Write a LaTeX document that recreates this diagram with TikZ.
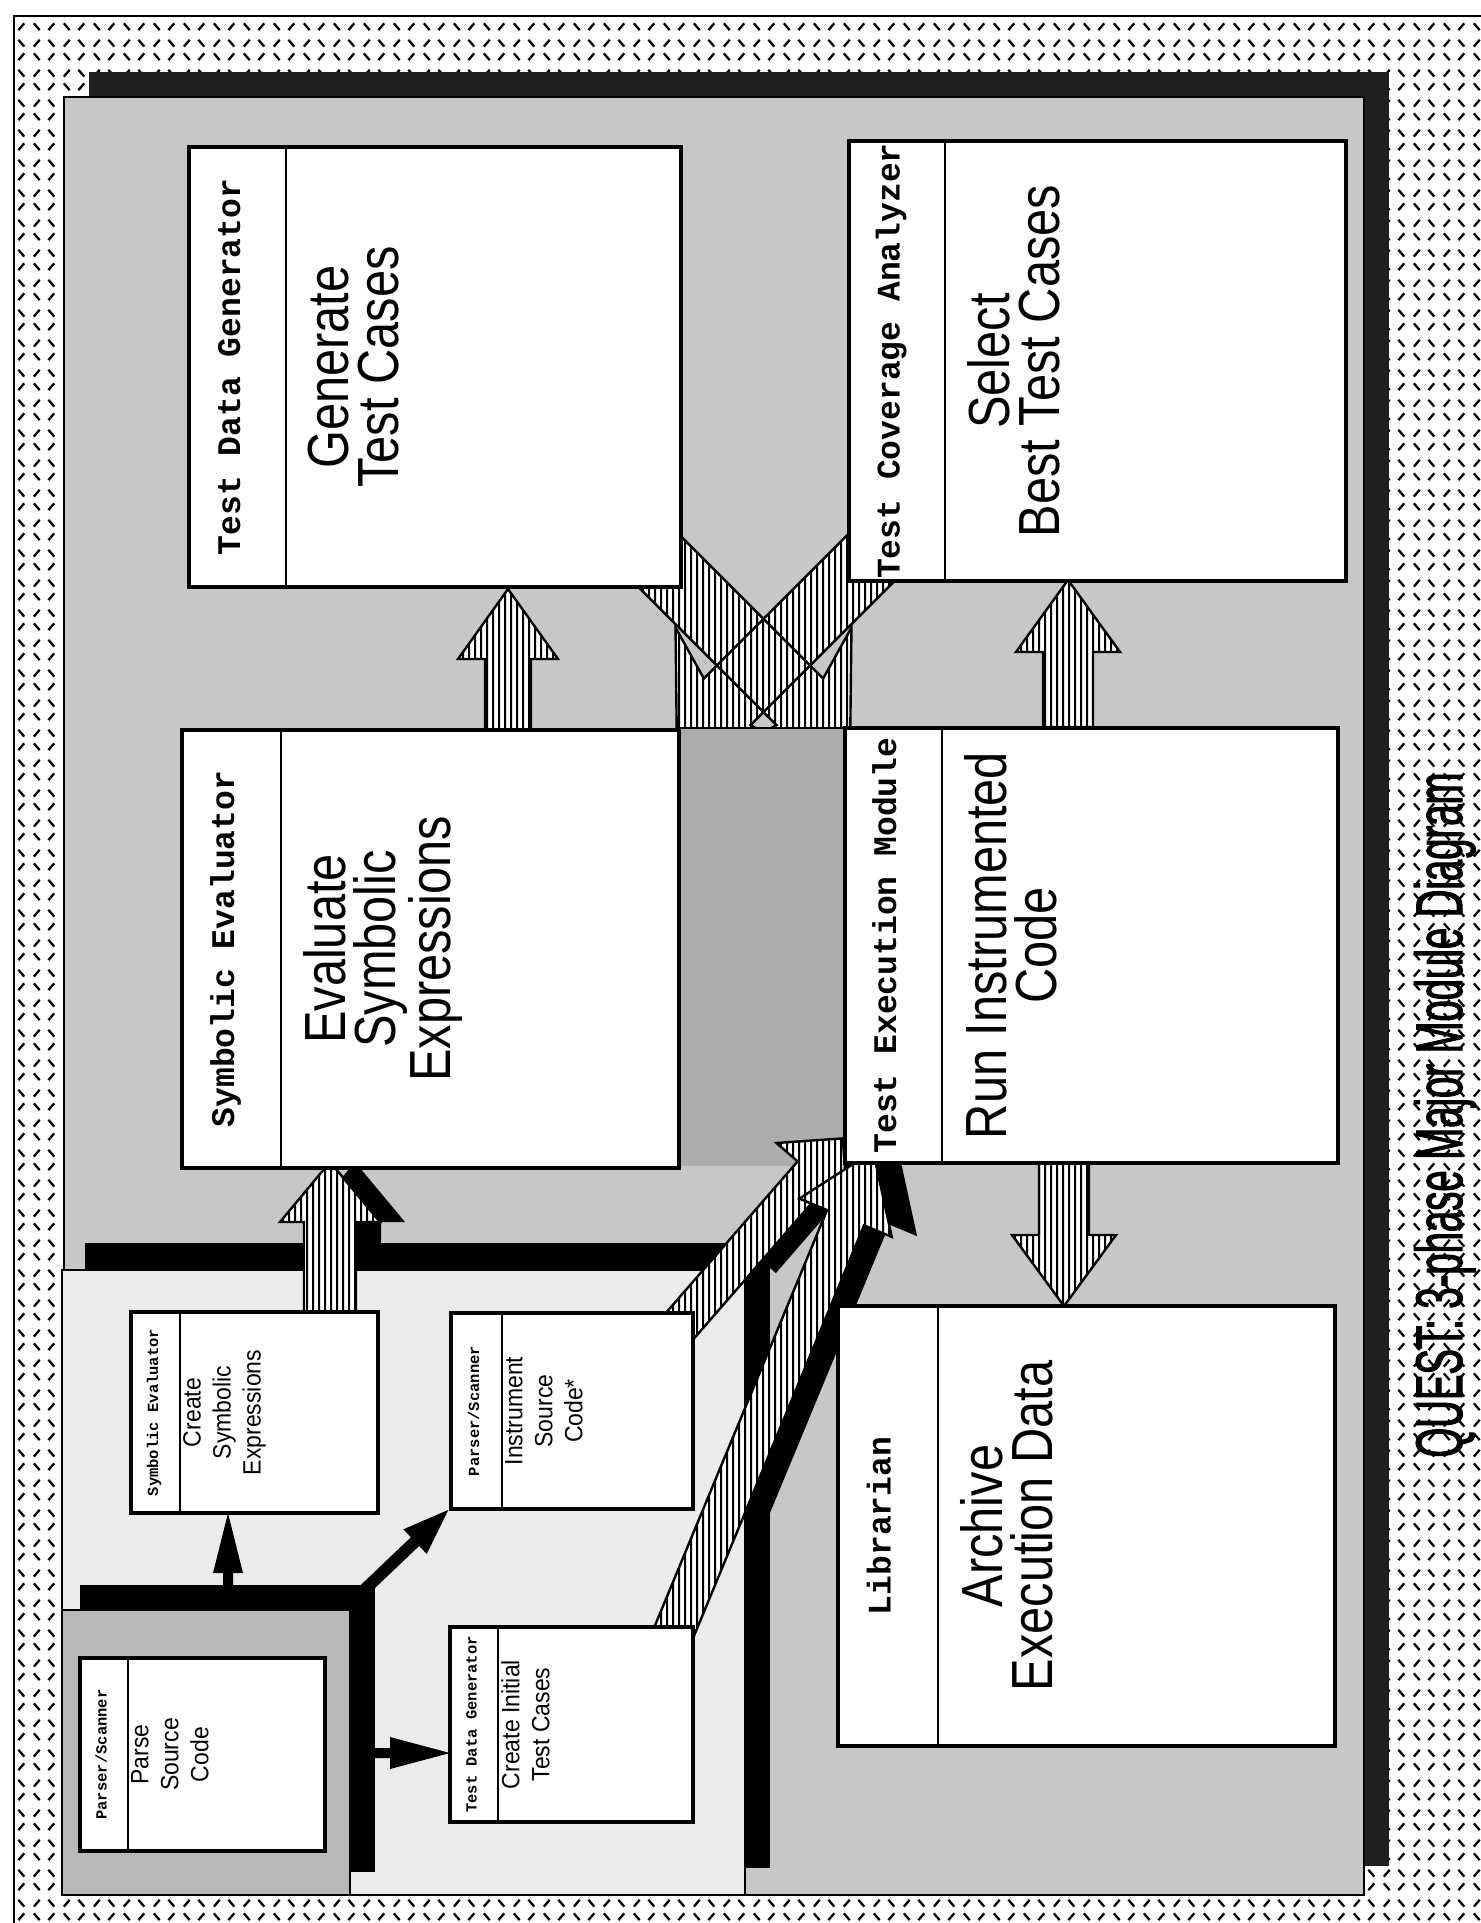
\documentclass[tikz,border=0pt]{standalone}
\usepackage{fontspec}
\setmainfont{Liberation Sans}
\newfontfamily\bodyf[FakeStretch=0.84]{Liberation Sans}
\newfontfamily\sbodyf[FakeStretch=0.92]{Liberation Sans}
\newfontfamily\titlef[FakeStretch=0.58,FakeBold=1.5]{Liberation Sans}
\newfontfamily\monof{Liberation Mono}
\usetikzlibrary{patterns}

% vertical stripes, tall tile to avoid seams
\pgfdeclarepatternformonly{vhatch}{\pgfpointorigin}{\pgfqpoint{6pt}{120pt}}{\pgfqpoint{6pt}{120pt}}%
  {\pgfpathrectangle{\pgfpointorigin}{\pgfqpoint{2.6pt}{120pt}}\pgfusepath{fill}}
% diamond-plate border texture
\pgfdeclarepatternformonly{plate}{\pgfpointorigin}{\pgfqpoint{30pt}{30pt}}{\pgfqpoint{30pt}{30pt}}%
  {\pgfsetlinewidth{2.4pt}%
    \pgfpathmoveto{\pgfqpoint{4pt}{18pt}}\pgfpathlineto{\pgfqpoint{10pt}{25pt}}%
    \pgfpathmoveto{\pgfqpoint{19pt}{25pt}}\pgfpathlineto{\pgfqpoint{25pt}{18pt}}%
    \pgfpathmoveto{\pgfqpoint{4pt}{11pt}}\pgfpathlineto{\pgfqpoint{10pt}{4pt}}%
    \pgfpathmoveto{\pgfqpoint{19pt}{4pt}}\pgfpathlineto{\pgfqpoint{25pt}{11pt}}%
    \pgfusepath{stroke}}

\tikzset{
  boxline/.style={draw=black, line width=3.2pt, fill=white},
  divline/.style={draw=black, line width=2.6pt},
  hdrbig/.style={font=\monof\bfseries\fontsize{33}{36}\selectfont, inner sep=0pt, anchor=mid, rotate=90},
  hdrsmall/.style={font=\monof\bfseries\fontsize{15.5}{17}\selectfont, inner sep=0pt, anchor=mid, rotate=90},
  bodybig/.style={font=\bodyf\fontsize{58}{50}\selectfont, align=center, inner sep=0pt, anchor=north, rotate=90},
  bodysmall/.style={font=\sbodyf\fontsize{25}{30}\selectfont, align=center, inner sep=0pt, anchor=north, rotate=90},
  hatchfill/.style={preaction={fill=white}, pattern=vhatch, pattern color=black},
  arrline/.style={draw=black, line width=2.4pt, line join=miter},
  shadowfill/.style={fill=black},
  panelline/.style={draw=black, line width=2.5pt}
}

% block arrow: style, tail, angle, length, shaft half, head half, head length, sweep
\newcommand\blockarrow[8]{%
  \begin{scope}[shift={#2},rotate=#3]
    \path[#1] (0,#5) -- ({#4-#7+#8},#5) -- ({#4-#7},#6) -- (#4,0) -- ({#4-#7},-#6) -- ({#4-#7+#8},-#5) -- (0,-#5) -- cycle;
  \end{scope}}

% module box: name, x0, y0, x1, y1, divider x, header, body
\newcommand\bigbox[8]{%
  \draw[boxline] (#2,#3) rectangle (#4,#5);
  \draw[divline] (#6,#3) -- (#6,#5);
  \node[hdrbig] (#1-hdr) at ({(#2+#6)/2},{(#3+#5)/2}) {#7};
  \node[bodybig] (#1) at ({#6+22},{(#3+#5)/2}) {#8};}
\newcommand\smallbox[8]{%
  \draw[boxline] (#2,#3) rectangle (#4,#5);
  \draw[divline] (#6,#3) -- (#6,#5);
  \node[hdrsmall] (#1-hdr) at ({(#2+#6)/2},{(#3+#5)/2}) {#7};
  \node[bodysmall] (#1) at ({#6+3},{(#3+#5)/2}) {#8};}

\begin{document}
\begin{tikzpicture}[x=1pt,y=-1pt]
\useasboundingbox (0,0) rectangle (1481,1923);
\fill[white] (0,0) rectangle (1481,1923);
% outer textured border
\fill[pattern=plate, pattern color=black] (14,16) rectangle (1481,1923);
\draw[line width=2.5pt] (1481,16) -- (14,16) -- (14,1923);

% main panel with shadow
\fill[black!88] (89,72) rectangle (1389,1866);
\filldraw[fill=black!22, panelline] (64,97) rectangle (1364,1895);

% crossing arrows (Generate -> Run, Select -> Evaluate)
\blockarrow{hatchfill}{(616.7,518.7)}{-45}{330}{33}{89}{87}{16}
\blockarrow{hatchfill}{(910.3,518.7)}{-135}{330}{33}{89}{87}{16}
\blockarrow{arrline}{(616.7,518.7)}{-45}{330}{33}{89}{87}{16}
\blockarrow{arrline}{(910.3,518.7)}{-135}{330}{33}{89}{87}{16}

% straight hatched arrows
\blockarrow{hatchfill,arrline}{(508,732)}{90}{143}{23}{50}{70}{0}
\blockarrow{hatchfill,arrline}{(1068,727)}{90}{147}{25}{52}{72}{0}
\blockarrow{hatchfill,arrline}{(1064,1163)}{-90}{143}{25}{52}{71}{0}

% darker gap between Symbolic Evaluator and Test Execution Module
\fill[black!32] (679,728) rectangle (845,1166);
\draw[line width=2.6pt] (679,728) -- (845,728);

% left (phase one) panel with shadow
\fill[black] (85,1243) rectangle (770,1868);
\filldraw[fill=black!8, panelline] (62,1270) rectangle (745,1895);

% parse panel with shadow
\fill[black] (80,1585) rectangle (375,1872);
\filldraw[fill=black!28, panelline] (62,1610) rectangle (350,1895);

% black shadow arrows
\blockarrow{shadowfill}{(355,1255)}{90}{93}{26}{50}{60}{0}
\blockarrow{shadowfill}{(761.5,1260.6)}{49}{162}{19}{47}{47}{0}
\blockarrow{shadowfill}{(745.4,1520)}{67.5}{400}{20}{50}{72}{0}
\blockarrow{shadowfill}{(228,1592)}{90}{79}{5}{15}{60}{0}
\blockarrow{shadowfill}{(370,1753)}{0}{80}{5}{16}{60}{0}
\blockarrow{shadowfill}{(360,1594)}{43.6}{122}{6}{17}{46}{0}

% hatched arrows into Symbolic Evaluator and Test Execution Module
\blockarrow{hatchfill,arrline}{(330,1320)}{90}{158}{26}{50}{60}{0}
\blockarrow{hatchfill,arrline}{(670.9,1336.1)}{49}{262}{19}{47}{47}{0}
\blockarrow{hatchfill,arrline}{(672.2,1636.2)}{67.5}{525}{20}{50}{72}{0}

% large module boxes
\bigbox{tdg}{189}{147}{681}{587}{286}{Test Data Generator}{Generate\\Test Cases}
\bigbox{tca}{849}{141}{1346}{581}{945}{Test Coverage Analyzer}{Select\\Best Test Cases}
\bigbox{se}{182}{730}{679}{1168}{281}{Symbolic Evaluator}{Evaluate\\Symbolic\\Expressions}
\bigbox{tem}{845}{728}{1338}{1163}{942}{Test Execution Module}{Run Instrumented\\Code}
\bigbox{lib}{838}{1306}{1335}{1746}{938}{Librarian}{Archive\\Execution Data}

% small module boxes
\smallbox{cse}{131}{1312}{378}{1513}{180}{Symbolic Evaluator}{Create\\Symbolic\\Expressions}
\smallbox{ins}{451}{1313}{693}{1509}{502}{Parser/Scanner}{Instrument\\Source\\Code*}
\smallbox{cit}{450}{1627}{693}{1822}{498}{Test Data Generator}{Create Initial\\Test Cases}
\smallbox{psc}{80}{1658}{325}{1851}{128}{Parser/Scanner}{Parse\\Source\\Code}

% title
\node[font=\titlef\fontsize{66}{70}\selectfont, rotate=90, anchor=base, inner sep=0pt] (title) at (1462,1115) {QUEST: 3-phase Major Module Diagram};
\end{tikzpicture}
\end{document}
